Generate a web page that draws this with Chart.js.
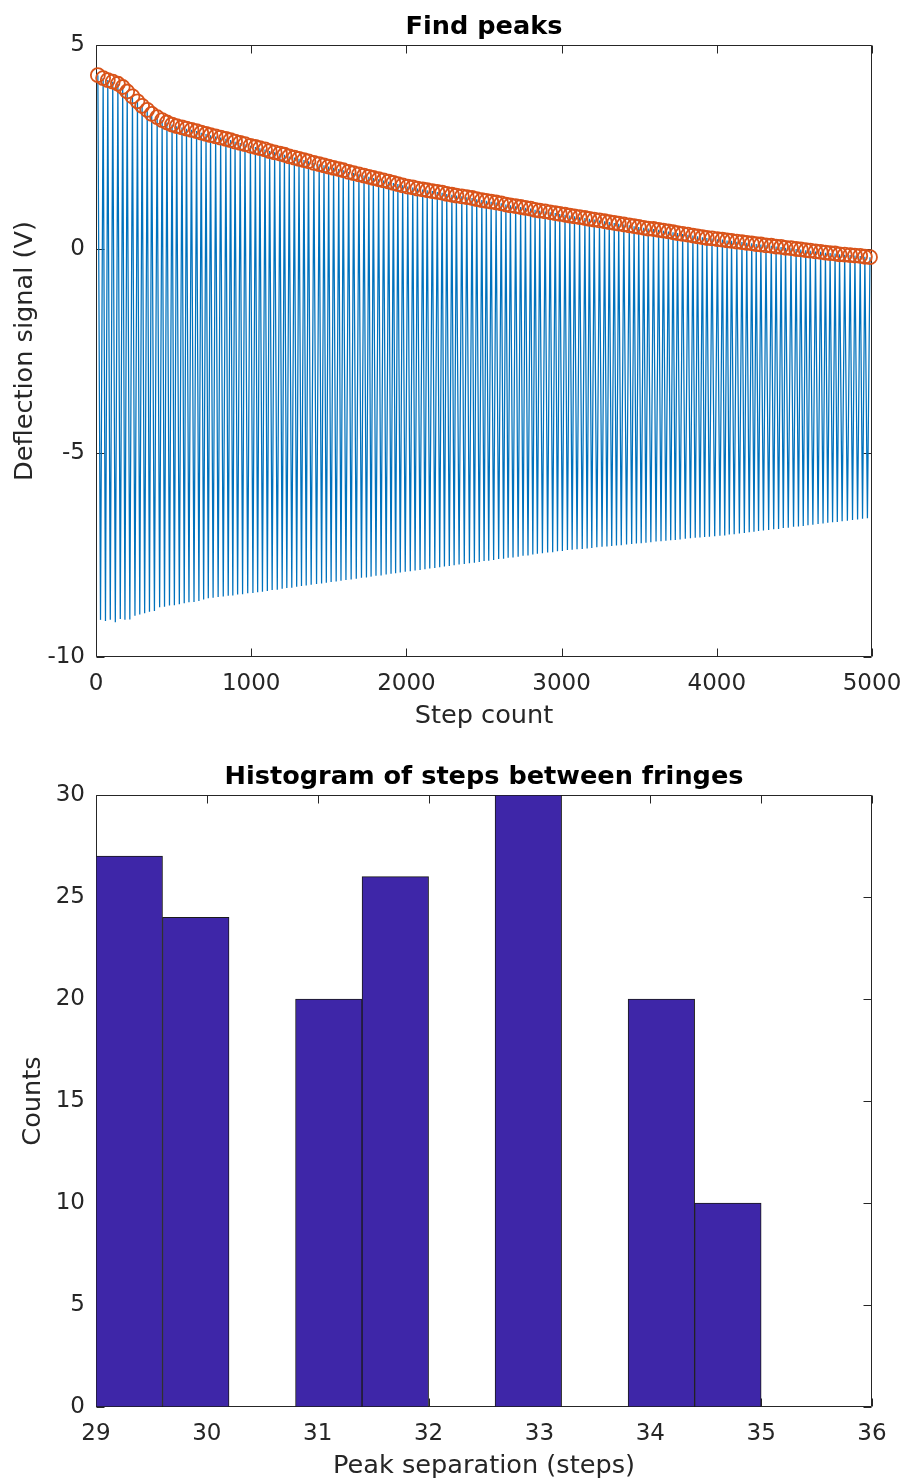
<!DOCTYPE html>
<html>
<head>
<meta charset="utf-8">
<script src="https://cdn.jsdelivr.net/npm/chart.js@4.4.1/dist/chart.umd.min.js"></script>
<style>
  html, body { margin: 0; padding: 0; background: #ffffff; }
  #wrap { position: relative; width: 905px; height: 1479px; overflow: hidden; }
  canvas { position: absolute; left: 0; }
  #peaksChart { top: 0; }
  #histChart { top: 740px; }
</style>
</head>
<body>
<div id="wrap">
  <canvas id="peaksChart" width="905" height="740"></canvas>
  <canvas id="histChart" width="905" height="739"></canvas>
</div>
<script>
// ---- Fringe signal: peak spacing (steps), peak heights and trough depths (V) ----
const firstPeakStep = 12;

const peakSpacing = [
  34,30,32,33,31,29,34,32,30,33,29,35,32,31,33,30,
  34,29,32,33,30,31,29,33,32,34,30,29,33,31,35,32,
  29,33,30,32,34,29,31,33,30,32,29,35,34,31,30,32,
  33,29,35,32,34,33,31,29,34,32,33,30,29,31,33,32,
  30,34,29,33,32,31,30,33,29,35,32,34,30,33,29,31,
  32,33,30,29,34,32,31,33,29,30,35,32,33,29,34,31,
  30,33,34,29,31,34,33,30,32,29,33,35,31,30,32,29,
  34,33,31,32,30,29,33,34,32,30,31,29,33,35,32,30,
  29,34,33,31,32,29,30,33,34,31,32,29,35,33,30,32,
  29,34,33,31,30,32,29,33,35,31,34,30,33
];

const peakHeights = [
  4.26,4.19,4.14,4.10,4.05,3.97,3.86,3.74,3.62,3.51,
  3.41,3.31,3.23,3.16,3.10,3.05,3.01,2.98,2.95,2.92,
  2.89,2.85,2.82,2.79,2.76,2.73,2.70,2.67,2.63,2.60,
  2.57,2.53,2.50,2.47,2.44,2.40,2.37,2.34,2.31,2.27,
  2.24,2.21,2.18,2.15,2.11,2.08,2.05,2.02,1.99,1.96,
  1.93,1.89,1.86,1.83,1.80,1.77,1.74,1.71,1.68,1.65,
  1.62,1.59,1.56,1.53,1.51,1.48,1.46,1.44,1.42,1.40,
  1.38,1.35,1.33,1.31,1.29,1.27,1.25,1.22,1.20,1.18,
  1.16,1.14,1.12,1.09,1.07,1.05,1.03,1.01,0.99,0.96,
  0.94,0.92,0.90,0.88,0.86,0.84,0.82,0.80,0.78,0.76,
  0.74,0.72,0.70,0.68,0.66,0.64,0.62,0.60,0.58,0.56,
  0.54,0.52,0.50,0.49,0.47,0.45,0.43,0.41,0.39,0.37,
  0.35,0.33,0.31,0.29,0.27,0.26,0.24,0.23,0.21,0.20,
  0.18,0.17,0.15,0.14,0.12,0.11,0.09,0.08,0.06,0.05,
  0.03,0.02,0.00,-0.01,-0.03,-0.04,-0.06,-0.07,-0.09,-0.10,
  -0.11,-0.13,-0.14,-0.15,-0.16,-0.17,-0.19,-0.20
];

const troughDepths = [
  -9.09,-9.12,-9.09,-9.15,-9.07,-9.09,-9.08,-8.99,-8.96,-8.93,
  -8.89,-8.87,-8.78,-8.77,-8.74,-8.73,-8.71,-8.68,-8.66,-8.65,
  -8.63,-8.59,-8.56,-8.55,-8.53,-8.52,-8.50,-8.49,-8.47,-8.46,
  -8.44,-8.43,-8.41,-8.40,-8.38,-8.36,-8.35,-8.33,-8.31,-8.30,
  -8.28,-8.26,-8.25,-8.23,-8.21,-8.20,-8.18,-8.16,-8.15,-8.13,
  -8.11,-8.10,-8.08,-8.06,-8.05,-8.03,-8.01,-8.00,-7.98,-7.96,
  -7.95,-7.93,-7.91,-7.90,-7.88,-7.87,-7.85,-7.83,-7.82,-7.80,
  -7.78,-7.77,-7.75,-7.73,-7.72,-7.70,-7.69,-7.67,-7.65,-7.64,
  -7.62,-7.60,-7.59,-7.57,-7.56,-7.54,-7.52,-7.51,-7.49,-7.47,
  -7.46,-7.44,-7.43,-7.41,-7.40,-7.38,-7.37,-7.36,-7.35,-7.34,
  -7.33,-7.31,-7.30,-7.29,-7.28,-7.27,-7.26,-7.24,-7.23,-7.22,
  -7.21,-7.20,-7.19,-7.17,-7.16,-7.15,-7.14,-7.13,-7.12,-7.10,
  -7.09,-7.08,-7.07,-7.06,-7.05,-7.04,-7.03,-7.02,-7.00,-6.99,
  -6.97,-6.96,-6.94,-6.93,-6.91,-6.90,-6.89,-6.87,-6.86,-6.84,
  -6.83,-6.81,-6.80,-6.79,-6.77,-6.76,-6.74,-6.73,-6.71,-6.70,
  -6.69,-6.67,-6.66,-6.64,-6.63,-6.61,-6.60
];

// ---- Histogram of peak separations ----
const binEdges  = [29, 29.6, 30.2, 30.8, 31.4, 32.0, 32.6, 33.2, 33.8, 34.4, 35.0];
const binCounts = [27, 24, 0, 20, 26, 0, 30, 0, 20, 10];

// ---- Tick values ----
const stepTicks    = [0, 1000, 2000, 3000, 4000, 5000];
const signalTicks  = [-10, -5, 0, 5];
const sepTicks     = [29, 30, 31, 32, 33, 34, 35, 36];
const countTicks   = [0, 5, 10, 15, 20, 25, 30];

// ---- Build point lists ----
const peakSteps = [firstPeakStep];
peakSpacing.forEach(d => peakSteps.push(peakSteps[peakSteps.length - 1] + d));

const peakPoints = peakSteps.map((s, i) => ({ x: s, y: peakHeights[i] }));

const signalPoints = [];
peakSteps.forEach((s, i) => {
  signalPoints.push({ x: s, y: peakHeights[i] });
  if (i < troughDepths.length) {
    signalPoints.push({ x: s + peakSpacing[i] / 2, y: troughDepths[i] });
  }
});

const histPoints = binCounts.map((c, i) => ({ x: (binEdges[i] + binEdges[i + 1]) / 2, y: c }));

// ---- Shared styling ----
const FONT = "'DejaVu Sans', 'Liberation Sans', sans-serif";
const INK = '#262626';
const TICK_FONT = { family: FONT, size: 23 };
const LABEL_FONT = { family: FONT, size: 25.6, lineHeight: 1 };

const fixedTicks = list => scale => { scale.ticks = list.map(v => ({ value: v })); };

// Box outline with inward tick marks on all four sides
const boxTicks = {
  id: 'boxTicks',
  beforeDatasetsDraw(chart, args, opts) {
    const { ctx, chartArea: a, scales: { x, y } } = chart;
    const len = opts.length || 8;
    const L = Math.round(a.left) + 0.5, R = Math.round(a.right) - 0.5;
    const T = Math.round(a.top) + 0.5, B = Math.round(a.bottom) - 0.5;
    ctx.save();
    ctx.strokeStyle = INK;
    ctx.lineWidth = 1;
    ctx.beginPath();
    ctx.rect(L, T, R - L, B - T);
    x.ticks.forEach(t => {
      const p = Math.round(x.getPixelForValue(t.value)) + 0.5;
      ctx.moveTo(p, B); ctx.lineTo(p, B - len);
      ctx.moveTo(p, T); ctx.lineTo(p, T + len);
    });
    y.ticks.forEach(t => {
      const p = Math.round(y.getPixelForValue(t.value)) + 0.5;
      ctx.moveTo(L, p); ctx.lineTo(L + len, p);
      ctx.moveTo(R, p); ctx.lineTo(R - len, p);
    });
    ctx.stroke();
    ctx.restore();
  }
};

// Bold axes title centred over the plot area
const axesTitle = {
  id: 'axesTitle',
  afterDraw(chart, args, opts) {
    const { ctx, chartArea: a } = chart;
    ctx.save();
    ctx.font = `bold ${opts.size}px ${FONT}`;
    ctx.fillStyle = '#000000';
    ctx.textAlign = 'center';
    ctx.textBaseline = 'alphabetic';
    ctx.fillText(opts.text, (a.left + a.right) / 2, a.top - opts.gap);
    ctx.restore();
  }
};

const axisBase = {
  grid: { display: false, drawTicks: false },
  border: { display: false }
};

const xFit = h => s => { s.height = h; s.paddingLeft = 0; s.paddingRight = 0; };
const yFit = w => s => { s.width = w; s.paddingTop = 0; s.paddingBottom = 0; };

// ---- Top: signal with detected peaks ----
new Chart(document.getElementById('peaksChart'), {
  type: 'line',
  data: {
    datasets: [
      {
        label: 'Peaks',
        data: peakPoints,
        showLine: false,
        pointRadius: 7,
        pointHoverRadius: 7,
        pointBorderColor: '#D95319',
        pointBackgroundColor: 'rgba(0,0,0,0)',
        pointBorderWidth: 1.8,
        clip: false,
        order: 0
      },
      {
        label: 'Signal',
        data: signalPoints,
        borderColor: '#0072BD',
        borderWidth: 1.25,
        pointRadius: 0,
        tension: 0,
        fill: false,
        order: 1
      }
    ]
  },
  options: {
    responsive: false,
    animation: false,
    devicePixelRatio: 1,
    layout: { padding: { left: 0, right: 33, top: 45, bottom: 0 } },
    plugins: {
      legend: { display: false },
      tooltip: { enabled: false },
      title: { display: false },
      axesTitle: { text: 'Find peaks', size: 25.6, gap: 11 },
      boxTicks: { length: 8 }
    },
    scales: {
      x: {
        ...axisBase,
        type: 'linear', min: 0, max: 5000,
        afterBuildTicks: fixedTicks(stepTicks),
        afterFit: xFit(83),
        ticks: { color: INK, font: TICK_FONT, padding: 13, maxRotation: 0, autoSkip: false, callback: v => String(v) },
        title: { display: true, text: 'Step count', color: INK, font: LABEL_FONT, padding: { top: 0, bottom: 10.5 } }
      },
      y: {
        ...axisBase,
        type: 'linear', min: -10, max: 5,
        afterBuildTicks: fixedTicks(signalTicks),
        afterFit: yFit(96),
        ticks: { color: INK, font: TICK_FONT, padding: 11, callback: v => String(v) },
        title: { display: true, text: 'Deflection signal (V)', color: INK, font: LABEL_FONT, padding: { top: 12.8, bottom: 0 } }
      }
    }
  },
  plugins: [boxTicks, axesTitle]
});

// ---- Bottom: histogram of peak separations ----
new Chart(document.getElementById('histChart'), {
  type: 'bar',
  data: {
    datasets: [{
      label: 'Counts',
      data: histPoints,
      backgroundColor: '#3E26A8',
      borderColor: '#1a1a1a',
      borderWidth: 1,
      borderSkipped: false,
      barPercentage: 1,
      categoryPercentage: 1,
      grouped: false
    }]
  },
  options: {
    responsive: false,
    animation: false,
    devicePixelRatio: 1,
    layout: { padding: { left: 0, right: 33, top: 55, bottom: 0 } },
    plugins: {
      legend: { display: false },
      tooltip: { enabled: false },
      title: { display: false },
      axesTitle: { text: 'Histogram of steps between fringes', size: 25.6, gap: 11 },
      boxTicks: { length: 8 }
    },
    scales: {
      x: {
        ...axisBase,
        type: 'linear', min: 29, max: 36, offset: false,
        afterBuildTicks: fixedTicks(sepTicks),
        afterFit: xFit(72),
        ticks: { color: INK, font: TICK_FONT, padding: 13, maxRotation: 0, autoSkip: false, callback: v => String(v) },
        title: { display: true, text: 'Peak separation (steps)', color: INK, font: LABEL_FONT, padding: { top: 0, bottom: 0 } }
      },
      y: {
        ...axisBase,
        type: 'linear', min: 0, max: 30,
        afterBuildTicks: fixedTicks(countTicks),
        afterFit: yFit(96),
        ticks: { color: INK, font: TICK_FONT, padding: 11, callback: v => String(v) },
        title: { display: true, text: 'Counts', color: INK, font: LABEL_FONT, padding: { top: 20.5, bottom: 0 } }
      }
    }
  },
  plugins: [boxTicks, axesTitle]
});
</script>
</body>
</html>
